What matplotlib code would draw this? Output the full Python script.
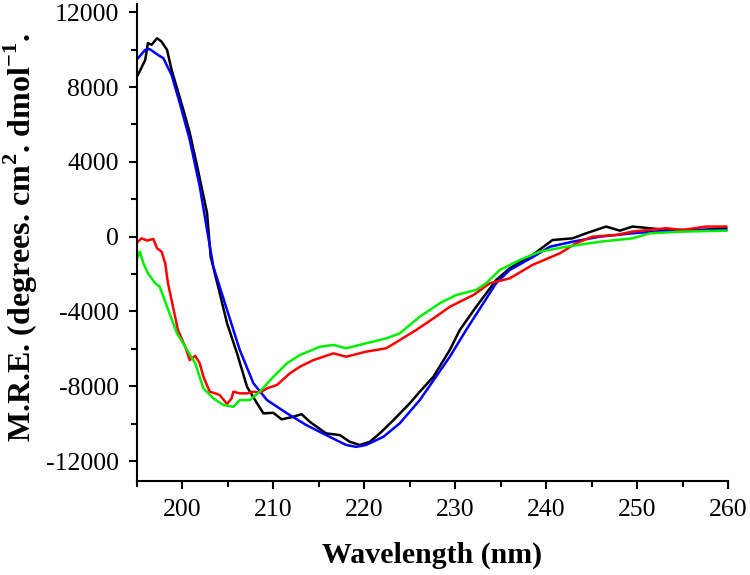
import numpy as np
import matplotlib
matplotlib.use('Agg')
import matplotlib.pyplot as plt
from matplotlib.ticker import MultipleLocator

plt.rcParams['font.family'] = ['Liberation Serif', 'DejaVu Serif']
plt.rcParams['mathtext.fontset'] = 'custom'
plt.rcParams['mathtext.rm'] = 'Liberation Serif'
plt.rcParams['mathtext.bf'] = 'Liberation Serif:bold'
plt.rcParams['axes.unicode_minus'] = False

# CD spectra (wavelength nm, MRE)
black_x = [195.1, 195.9, 196.2, 196.6, 197.2, 197.7, 198.3, 198.8, 200.1, 200.8, 201.7, 202.7,
           203.1, 204.1, 204.9, 206.0, 207.1, 208.2, 208.9, 210.0, 210.9, 212.2, 213.1, 214.0,
           215.8, 217.3, 218.4, 219.5, 220.6, 221.7, 223.2, 225.0, 226.1, 227.6, 229.4, 230.5,
           232.3, 234.5, 236.0, 238.5, 240.7, 242.9, 244.4, 246.6, 248.1, 249.5, 251.4, 253.2,
           256.9, 259.8]
black_y = [8650, 9450, 10350, 10260, 10610, 10430, 9990, 8920, 6780, 5550, 3570, 1270,
           -1070, -3030, -4630, -6240, -8030, -8910, -9450, -9420, -9770, -9630, -9490, -9900,
           -10520, -10610, -10970, -11140, -10970, -10520, -9810, -8910, -8290, -7490, -6060, -4990,
           -3750, -2320, -1690, -980, -180, -90, 180, 540, 320, 540, 450, 360,
           360, 450]

blue_x = [195.1, 195.9, 196.4, 197.3, 197.9, 198.8, 199.7, 200.8, 201.9, 202.7, 203.4, 204.9,
          206.3, 207.8, 209.3, 211.5, 213.6, 215.8, 218.0, 219.1, 220.2, 222.1, 223.9, 226.1,
          229.4, 231.2, 234.5, 236.0, 238.5, 240.4, 242.9, 245.9, 249.5, 253.2, 259.8]
blue_y = [9540, 9990, 10030, 9720, 9540, 8650, 7150, 5170, 2680, 360, -1610, -3920,
          -6060, -7840, -8740, -9450, -10070, -10610, -11140, -11240, -11140, -10700, -9980, -8740,
          -6420, -4990, -2490, -1780, -1100, -540, -270, 0, 180, 320, 360]

red_x = [195.1, 195.5, 196.1, 196.8, 197.2, 197.7, 198.1, 198.4, 198.8, 199.5, 200.3, 200.8,
         201.4, 201.9, 202.3, 203.0, 203.6, 204.1, 204.9, 205.4, 205.6, 206.3, 207.1, 207.8,
         208.5, 209.3, 210.4, 211.8, 212.9, 214.4, 216.6, 218.0, 220.2, 222.4, 223.9, 225.7,
         227.6, 229.4, 232.0, 233.8, 236.0, 238.5, 241.5, 243.3, 245.1, 247.7, 249.5, 253.2,
         255.0, 257.6, 259.8]
red_y = [-270, -90, -210, -120, -620, -800, -1420, -2490, -3390, -4990, -5890, -6600,
         -6370, -6770, -7490, -8290, -8380, -8470, -8950, -8650, -8290, -8380, -8380, -8290,
         -8350, -8110, -7930, -7310, -6960, -6600, -6240, -6420, -6150, -5970, -5530, -4990,
         -4370, -3750, -3120, -2490, -2230, -1510, -890, -350, 0, 90, 270, 450,
         360, 540, 540]

green_x = [195.1, 195.3, 195.7, 196.2, 197.0, 197.5, 198.3, 199.4, 200.3, 201.4, 202.3, 203.4,
           204.5, 205.6, 206.3, 207.4, 208.5, 210.0, 211.5, 212.9, 215.1, 216.6, 218.0, 220.2,
           222.4, 223.9, 226.1, 228.3, 230.1, 232.3, 233.4, 234.9, 237.1, 239.3, 242.2, 245.9,
           249.5, 251.4, 255.0, 259.8]
green_y = [-1070, -800, -1420, -1960, -2490, -2680, -3750, -5170, -5890, -6770, -8110, -8650,
           -9000, -9100, -8740, -8740, -8290, -7490, -6770, -6330, -5890, -5790, -5970, -5700,
           -5440, -5170, -4280, -3560, -3120, -2850, -2490, -1780, -1250, -800, -540, -270,
           -90, 180, 270, 320]

fig = plt.figure(figsize=(7.5, 5.75), dpi=100)
ax = fig.add_axes([0.1827, 0.164, 0.788, 0.829])

ax.plot(black_x, black_y, color='black', lw=1.8)
ax.plot(blue_x, blue_y, color='#0000ff', lw=1.8)
ax.plot(red_x, red_y, color='#ff0000', lw=1.8)
ax.plot(green_x, green_y, color='#00ee00', lw=1.8)

ax.set_xlim(195, 260)
ax.set_ylim(-13050, 12440)
ax.xaxis.set_major_locator(MultipleLocator(10))
ax.xaxis.set_minor_locator(MultipleLocator(5))
ax.yaxis.set_major_locator(MultipleLocator(4000))
ax.yaxis.set_minor_locator(MultipleLocator(2000))

for side in ['top', 'right']:
    ax.spines[side].set_visible(False)
for side in ['left', 'bottom']:
    ax.spines[side].set_linewidth(1.5)

ax.tick_params(which='major', direction='out', length=6, width=1.5, labelsize=18.5, pad=7)
ax.tick_params(which='minor', direction='out', length=4, width=1.5)

ax.set_xlabel('Wavelength (nm)', fontsize=21.5, fontweight='bold')
ax.set_ylabel(r'M.R.E. (degrees. cm$^\mathbf{2}$. dmol$^\mathbf{-1}$.',
              fontsize=23, fontweight='bold')
ax.xaxis.set_label_coords(0.5, -0.128)
ax.yaxis.set_label_coords(-0.164, 0.51)

fig.savefig('out.png', dpi=100)
